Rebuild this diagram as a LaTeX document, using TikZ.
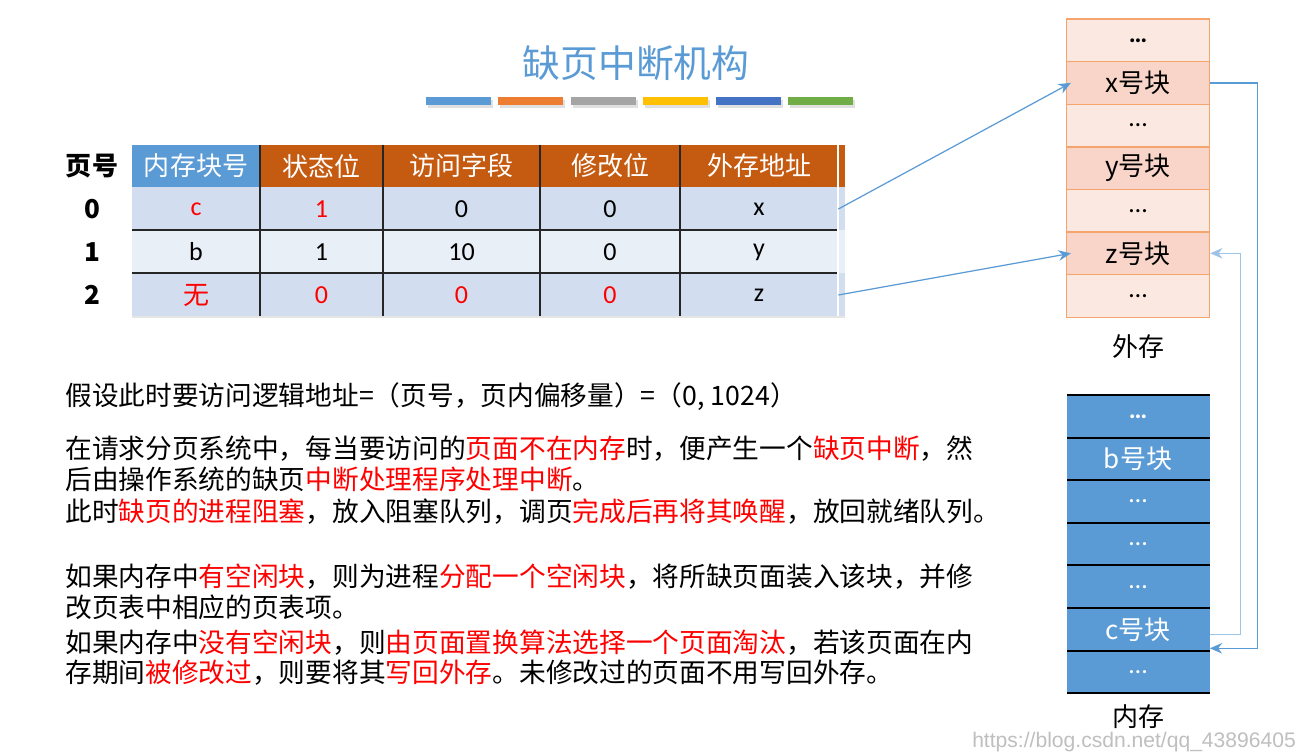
\documentclass[tikz,border=0pt]{standalone}
\usepackage{fontspec}
\setmainfont{Noto Sans CJK SC}
\newfontfamily\latin{Carlito}
\newfontfamily\urlfont{Liberation Sans}
\usetikzlibrary{arrows.meta}
\definecolor{mblue}{HTML}{5B9BD5}
\definecolor{lblue}{HTML}{9DC3E6}
\definecolor{morange}{HTML}{ED7D31}
\definecolor{hdrorange}{HTML}{C55A11}
\definecolor{mgray}{HTML}{A5A5A5}
\definecolor{myellow}{HTML}{FFC000}
\definecolor{mdblue}{HTML}{4472C4}
\definecolor{mgreen}{HTML}{70AD47}
\definecolor{rowa}{HTML}{D2DEEF}
\definecolor{rowb}{HTML}{E9EFF7}
\definecolor{extlt}{HTML}{FBE8E1}
\definecolor{extdk}{HTML}{F8D5C8}
\definecolor{extline}{HTML}{F4A46C}
\newcommand\redtxt[1]{\textcolor{red}{#1}}
\tikzset{
  hdr/.style={inner sep=0pt, minimum height=0.84cm, text=white},
  val/.style={inner sep=0pt, minimum height=0.86cm, font=\latin\fontsize{14.8}{17}\selectfont},
  extblk/.style={draw=extline, line width=0.8pt, inner sep=0pt, minimum width=2.86cm, minimum height=0.852cm},
  memblk/.style={fill=mblue, text=white, inner sep=0pt, minimum width=2.86cm, minimum height=0.852cm},
  link/.style={draw=mblue, line width=0.7pt, -{Stealth[length=7pt,width=6pt]}},
  line/.style={inner sep=0pt, anchor=west, font=\fontsize{15.2}{17}\selectfont}
}
\begin{document}
\begin{tikzpicture}[x=0.02cm,y=-0.02cm,font=\fontsize{14.8}{17}\selectfont]
\useasboundingbox[fill=white] (0,0) rectangle (1310,752);

% title and colour bars
\node[text=mblue, font=\fontsize{21.5}{24}\selectfont] (title) at (636,63) {缺页中断机构};
\foreach \c [count=\i from 0] in {mblue,morange,mgray,myellow,mdblue,mgreen}
{
  \fill[black!12] (428+72.4*\i,100) rectangle ++(65,8);
  \fill[\c] (426+72.4*\i,97) rectangle ++(65,8);
}

% page table
\foreach \y/\f in {187/rowa,230/rowb,273/rowa}
  \fill[\f] (132,\y) rectangle (845,\y+43);
\fill[hdrorange] (260,145) rectangle (845,187);
\foreach \x/\w/\t/\f [count=\j] in {132/128/内存块号/mblue, 260/123/状态位/hdrorange, 383/157/访问字段/hdrorange, 540/140/修改位/hdrorange, 680/158/外存地址/hdrorange}
  \node[hdr, fill=\f, minimum width=\w*0.02cm] (h\j) at (\x+\w/2,166) {\t};
\node[font=\bfseries\fontsize{14.8}{17}\selectfont] (pageno) at (92,166) {页号};

\foreach \r/\y/\a/\b/\c/\d/\e in {0/209/\redtxt{c}/\redtxt{1}/0/0/x, 1/252/b/1/10/0/y, 2/295/\redtxt{{\normalfont 无}}/\redtxt{0}/\redtxt{0}/\redtxt{0}/z}
{
  \node[font=\bfseries\fontsize{14.8}{17}\selectfont] (p\r) at (92,\y) {\r};
  \node[val, minimum width=2.56cm] (blk\r) at (196,\y) {\a};
  \node[val, minimum width=2.46cm] (state\r) at (321.5,\y) {\b};
  \node[val, minimum width=3.14cm] (acc\r) at (461.5,\y) {\c};
  \node[val, minimum width=2.8cm] (mod\r) at (610,\y) {\d};
  \node[val, minimum width=3.16cm] (addr\r) at (759,\y) {\e};
}
\foreach \x in {260,383,540,680}
  \draw[black!85, line width=0.7pt] (\x,145) -- (\x,316);
\foreach \y in {230,273}
  \draw[black!85, line width=0.8pt] (132,\y) -- (838,\y);
\draw[white, line width=0.8pt] (838,145) -- (838,316);
\draw[black!10, line width=0.6pt] (132,317) -- (845,317);

% external storage
\foreach \t/\f [count=\i from 0] in {{\bfseries\latin\ldots}/extlt, x号块/extdk, {\latin\ldots}/extlt, y号块/extdk, {\latin\ldots}/extlt, z号块/extdk, {\latin\ldots}/extlt}
  \node[extblk, fill=\f] (e\i) at (1138,40.3+42.6*\i) {\t};
\node (extlabel) at (1138,347) {外存};

% main memory
\foreach \t [count=\i from 0] in {{\bfseries\latin\ldots}, b号块, {\latin\ldots}, {\latin\ldots}, {\latin\ldots}, c号块, {\latin\ldots}}
  \node[memblk] (m\i) at (1138,416.3+42.6*\i) {\t};
\foreach \k in {0,...,7}
  \draw[black, line width=1.1pt] (1067,395+42.6*\k) -- (1210,395+42.6*\k);
\node (memlabel) at (1138,717) {内存};

% connectors
\draw[link] (addr0.east) -- ([xshift=0.1cm]e1.west);
\draw[link] (addr2.east) -- ([xshift=0.1cm]e5.west);
\draw[link] (e1.east) -- ++(47,0) |- ([yshift=-0.38cm]m5.east);
\draw[link, draw=lblue] ([yshift=-0.1cm]m5.east) -- ++(31,0) |- (e5.east);

% explanation
\node[line] (t1) at (65,397) {假设此时要访问逻辑地址=（页号，页内偏移量）=（0, 1024）};
\node[line] (t2) at (65,449) {在请求分页系统中，每当要访问的\redtxt{页面不在内存}时，便产生一个\redtxt{缺页中断}，然};
\node[line] (t3) at (65,479) {后由操作系统的缺页\redtxt{中断处理程序处理中断}。};
\node[line] (t4) at (65,512) {此时\redtxt{缺页的进程阻塞}，放入阻塞队列，调页\redtxt{完成后再将其唤醒}，放回就绪队列。};
\node[line] (t5) at (65,577) {如果内存中\redtxt{有空闲块}，则为进程\redtxt{分配一个空闲块}，将所缺页面装入该块，并修};
\node[line] (t6) at (65,607) {改页表中相应的页表项。};
\node[line] (t7) at (65,643) {如果内存中\redtxt{没有空闲块}，则\redtxt{由页面置换算法选择一个页面淘汰}，若该页面在内};
\node[line] (t8) at (65,673) {存期间\redtxt{被修改过}，则要将其\redtxt{写回外存}。未修改过的页面不用写回外存。};

\node[text=black!25, font=\urlfont\fontsize{12}{14}\selectfont, anchor=east] (url) at (1302,742) {https://blog.csdn.net/qq\_43896405};
\end{tikzpicture}
\end{document}
